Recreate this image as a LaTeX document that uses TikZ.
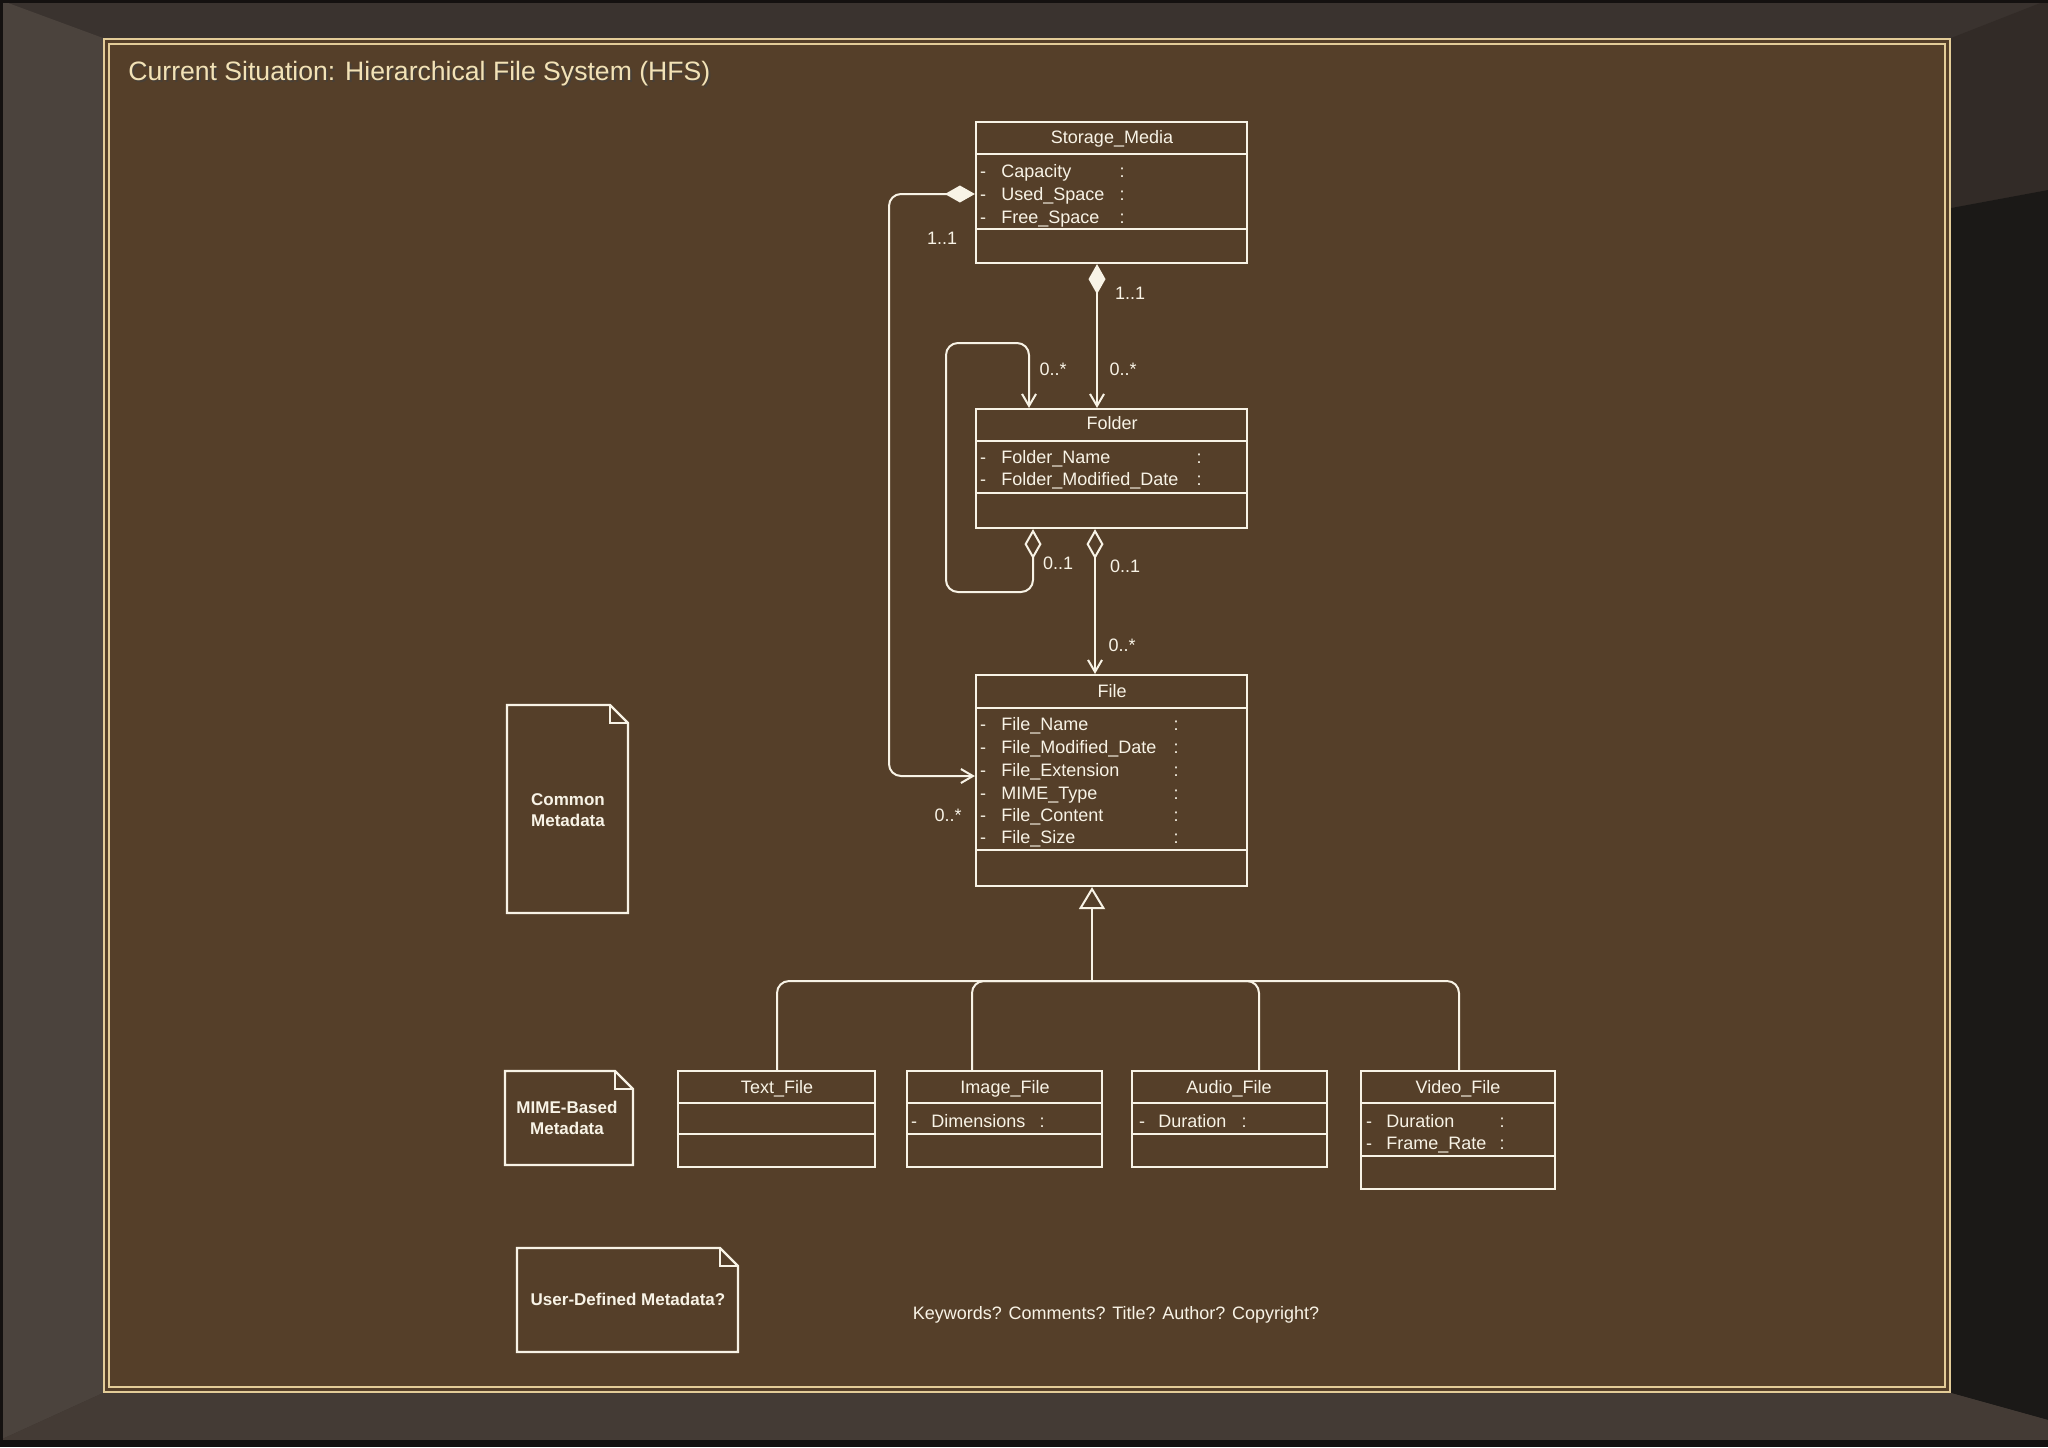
\documentclass[tikz,border=0pt]{standalone}
\usepackage{fontspec}
\setmainfont{Liberation Sans}
\usetikzlibrary{arrows.meta,fit}
\definecolor{panel}{HTML}{553F29}
\definecolor{gold}{HTML}{E3CC98}
\definecolor{ink}{HTML}{F8F3E6}
\definecolor{titlecol}{HTML}{F2E2B6}
\definecolor{bgbase}{HTML}{3A332F}
\definecolor{bgleft}{HTML}{4B433D}
\definecolor{bgrtop}{HTML}{322B27}
\definecolor{bgright}{HTML}{1B1917}
\definecolor{bgbottom}{HTML}{443B35}
\definecolor{bgedge}{HTML}{141110}
\newcommand{\umlrow}[6]{%
  \node[ttl] (#1d) at (#2,#5) {-};
  \node[attr] (#1) at (#3,#5) {#6};
  \node[ttl] (#1c) at (#4,#5) {:};}
\begin{document}
\begin{tikzpicture}[x=0.5pt,y=-0.5pt,
  cls/.style={draw=ink, line width=1.1pt, inner sep=0pt},
  divl/.style={draw=ink, line width=1.1pt},
  ttl/.style={text=ink, font=\fontsize{9}{10}\selectfont, inner sep=0pt, text height=7.6pt, text depth=1.2pt},
  attr/.style={ttl, anchor=west},
  lbl/.style={ttl},
  notetxt/.style={text=ink, font=\fontsize{8.5}{10.5}\selectfont\bfseries, inner sep=0pt, align=center},
  noteline/.style={draw=ink, line width=1.1pt, line join=miter},
  conn/.style={draw=ink, line width=1pt},
  myfd/.tip={Diamond[length=15pt,width=8.5pt,fill=ink]},
  myod/.tip={Diamond[length=15pt,width=8.5pt,fill=panel]},
  myv/.tip={Straight Barb[length=6pt,width=7pt]},
  mygen/.tip={Triangle[length=11pt,width=13pt,fill=panel]}]
\useasboundingbox (0,0) rectangle (2048,1447);
% ---- background frame ----
\fill[bgbase] (0,0) rectangle (2048,1447);
\fill[bgleft] (0,0) -- (103,38) -- (103,1393) -- (0,1440) -- cycle;
\fill[bgrtop] (1951,38) -- (2048,0) -- (2048,190) -- (1951,208) -- cycle;
\fill[bgright] (1951,208) -- (2048,190) -- (2048,1420) -- (1951,1393) -- cycle;
\fill[bgbottom] (0,1440) -- (103,1393) -- (1951,1393) -- (2048,1420) -- (2048,1440) -- cycle;
\fill[bgedge] (0,1440) rectangle (2048,1447);
\fill[bgedge] (0,0) rectangle (2048,3);
\fill[bgedge] (0,0) rectangle (3,1447);
% ---- panel ----
\fill[panel] (103,38) rectangle (1951,1393);
\draw[gold, line width=1.3pt] (104,39) rectangle (1950,1392);
\draw[gold, line width=0.8pt] (109,44) rectangle (1945,1387);
% ---- title ----
\node[anchor=west, text=black!75, opacity=0.6, font=\fontsize{13.3}{16}\selectfont, inner sep=0pt] (titleshadow) at (130,76) {Current Situation: Hierarchical File System (HFS)};
\node[anchor=west, text=titlecol, font=\fontsize{13.3}{16}\selectfont, inner sep=0pt] (title) at (128,74) {Current Situation: Hierarchical File System (HFS)};
% ---- Storage_Media ----
\node[cls, fit={(976,122) (1247,263)}] (sm) {};
\draw[divl] (976,154) -- (1247,154);
\draw[divl] (976,229) -- (1247,229);
\node[ttl] (smT) at (1112,137) {Storage\_Media};
\umlrow{smA}{983}{1001}{1122}{171}{Capacity}
\umlrow{smB}{983}{1001}{1122}{194}{Used\_Space}
\umlrow{smC}{983}{1001}{1122}{217}{Free\_Space}
% ---- Folder ----
\node[cls, fit={(976,409) (1247,528)}] (folder) {};
\draw[divl] (976,441) -- (1247,441);
\draw[divl] (976,493) -- (1247,493);
\node[ttl] (folderT) at (1112,423) {Folder};
\umlrow{foA}{983}{1001}{1199}{457}{Folder\_Name}
\umlrow{foB}{983}{1001}{1199}{479}{Folder\_Modified\_Date}
% ---- File ----
\node[cls, fit={(976,675) (1247,886)}] (file) {};
\draw[divl] (976,708) -- (1247,708);
\draw[divl] (976,850) -- (1247,850);
\node[ttl] (fileT) at (1112,691) {File};
\umlrow{fiA}{983}{1001}{1176}{724}{File\_Name}
\umlrow{fiB}{983}{1001}{1176}{747}{File\_Modified\_Date}
\umlrow{fiC}{983}{1001}{1176}{770}{File\_Extension}
\umlrow{fiD}{983}{1001}{1176}{793}{MIME\_Type}
\umlrow{fiE}{983}{1001}{1176}{815}{File\_Content}
\umlrow{fiF}{983}{1001}{1176}{837}{File\_Size}
% ---- Text_File ----
\node[cls, fit={(678,1071) (875,1167)}] (tf) {};
\draw[divl] (678,1103) -- (875,1103);
\draw[divl] (678,1134) -- (875,1134);
\node[ttl] (tfT) at (777,1087) {Text\_File};
% ---- Image_File ----
\node[cls, fit={(907,1071) (1102,1167)}] (imf) {};
\draw[divl] (907,1103) -- (1102,1103);
\draw[divl] (907,1134) -- (1102,1134);
\node[ttl] (imfT) at (1005,1087) {Image\_File};
\umlrow{imA}{914}{931}{1042}{1121}{Dimensions}
% ---- Audio_File ----
\node[cls, fit={(1132,1071) (1327,1167)}] (af) {};
\draw[divl] (1132,1103) -- (1327,1103);
\draw[divl] (1132,1134) -- (1327,1134);
\node[ttl] (afT) at (1229,1087) {Audio\_File};
\umlrow{afA}{1142}{1158}{1244}{1121}{Duration}
% ---- Video_File ----
\node[cls, fit={(1361,1071) (1555,1189)}] (vf) {};
\draw[divl] (1361,1103) -- (1555,1103);
\draw[divl] (1361,1156) -- (1555,1156);
\node[ttl] (vfT) at (1458,1087) {Video\_File};
\umlrow{vfA}{1369}{1386}{1502}{1121}{Duration}
\umlrow{vfB}{1369}{1386}{1502}{1143}{Frame\_Rate}
% ---- associations ----
\draw[conn, rounded corners=6pt, arrows={myfd-myv}] (sm.west |- 0,194) -- (889,194) -- (889,776) -- (file.west |- 0,776);
\draw[conn, arrows={myfd-myv}] (sm.south -| 1097,0) -- (folder.north -| 1097,0);
\draw[conn, rounded corners=6pt, arrows={myod-myv}] (folder.south -| 1033,0) -- (1033,592) -- (946,592) -- (946,343) -- (1029,343) -- (folder.north -| 1029,0);
\draw[conn, arrows={myod-myv}] (folder.south -| 1095,0) -- (file.north -| 1095,0);
% ---- generalization ----
\coordinate (gj) at (1092,981);
\draw[conn, rounded corners=6pt] (tf.north -| 777,0) -- (777,981) -- (gj);
\draw[conn, rounded corners=6pt] (imf.north -| 972,0) -- (972,981) -- (gj);
\draw[conn, rounded corners=6pt] (af.north -| 1259,0) -- (1259,981) -- (gj);
\draw[conn, rounded corners=6pt] (vf.north -| 1459,0) -- (1459,981) -- (gj);
\draw[conn, arrows={-mygen}] (gj) -- (file.south -| 1092,0);
% ---- multiplicities ----
\node[lbl] (m1) at (942,238) {1..1};
\node[lbl] (m2) at (1130,293) {1..1};
\node[lbl] (m3) at (1053,369) {0..*};
\node[lbl] (m4) at (1123,369) {0..*};
\node[lbl] (m5) at (1058,563) {0..1};
\node[lbl] (m6) at (1125,566) {0..1};
\node[lbl] (m7) at (1122,645) {0..*};
\node[lbl] (m8) at (948,815) {0..*};
% ---- notes ----
\draw[noteline] (507,705) -- (610,705) -- (628,723) -- (628,913) -- (507,913) -- cycle;
\draw[noteline] (610,705) -- (610,723) -- (628,723);
\node[notetxt] (n1) at (568,810) {Common\\Metadata};
\draw[noteline] (505,1071) -- (615,1071) -- (633,1089) -- (633,1165) -- (505,1165) -- cycle;
\draw[noteline] (615,1071) -- (615,1089) -- (633,1089);
\node[notetxt] (n2) at (567,1118) {MIME-Based\\Metadata};
\draw[noteline] (517,1248) -- (720,1248) -- (738,1266) -- (738,1352) -- (517,1352) -- cycle;
\draw[noteline] (720,1248) -- (720,1266) -- (738,1266);
\node[notetxt] (n3) at (628,1299) {User-Defined Metadata?};
% ---- free text ----
\node[ttl] (kw) at (1116,1313) {Keywords? Comments? Title? Author? Copyright?};
\end{tikzpicture}
\end{document}
